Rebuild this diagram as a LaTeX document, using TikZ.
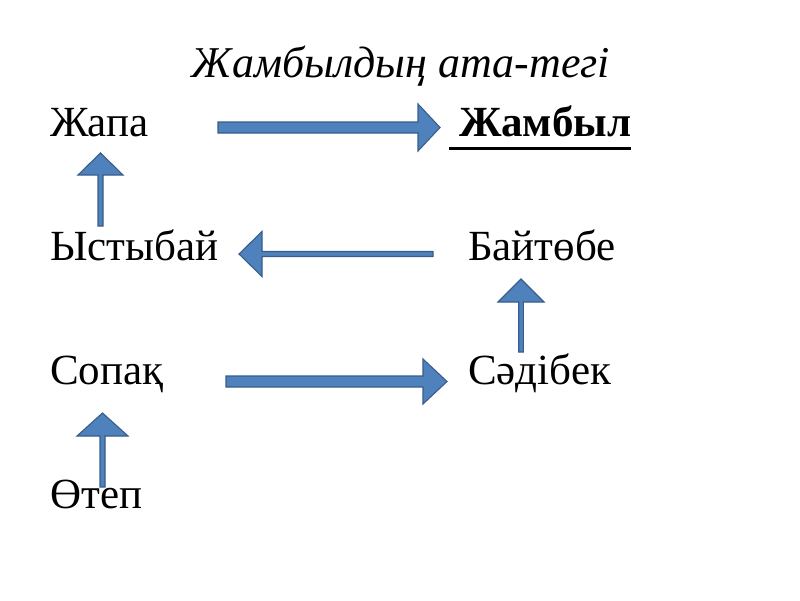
\documentclass[tikz,border=0pt]{standalone}
\usepackage{fontspec}
\setmainfont{Liberation Serif}
\usetikzlibrary{calc}
\definecolor{arrfill}{HTML}{4F81BD}
\definecolor{arrline}{HTML}{385D8A}
% #1 start, #2 end, #3 half shaft width, #4 half head width, #5 head length
\newcommand\myblockarrow[5]{%
  \coordinate (tmpb) at ($(#2)!#5!(#1)$);
  \draw[blockarr] ($(#1)!#3!90:(#2)$) -- ($(tmpb)!#3!90:(#2)$) -- ($(tmpb)!#4!90:(#2)$) -- (#2)
    -- ($(tmpb)!#4!-90:(#2)$) -- ($(tmpb)!#3!-90:(#2)$) -- ($(#1)!#3!-90:(#2)$) -- cycle;
}
\newcommand\myuline[1]{{\setbox0\hbox{#1}\rlap{\rule[-14pt]{\wd0}{3pt}}\box0}}
\begin{document}
\begin{tikzpicture}[x=1pt,y=-1pt,
  word/.style={anchor=base west,inner sep=0pt,font=\fontsize{43}{50}\selectfont},
  blockarr/.style={fill=arrfill,draw=arrline,line width=1.1pt,line join=miter}]
\useasboundingbox[fill=white] (0,0) rectangle (800,600);
% title
\node[anchor=base,inner sep=0pt,font=\fontsize{44}{52}\selectfont\itshape] (title) at (401,77) {Жамбылдың ата-тегі};
% left column
\node[word] (zhapa) at (50,136) {Жапа};
\node[word] (ystybai) at (50,260) {Ыстыбай};
\node[word] (sopaq) at (50,384) {Сопақ};
\node[word] (otep) at (50,508) {Өтеп};
% right column
\node[word] (zhambyl) at (449,136) {\myuline{\bfseries\ Жамбыл}};
\node[word] (baitobe) at (468,260) {Байтөбе};
\node[word] (sadibek) at (468,384) {Сәдібек};
% arrow end points
\coordinate (a1s) at (218,127.5); \coordinate (a1e) at (440,127.5);
\coordinate (a2s) at (100.5,226); \coordinate (a2e) at (100.5,153);
\coordinate (a3s) at (433,254);   \coordinate (a3e) at (239,254);
\coordinate (a4s) at (521,352);   \coordinate (a4e) at (521,279);
\coordinate (a5s) at (226,381.5); \coordinate (a5e) at (447,381.5);
\coordinate (a6s) at (102.5,487); \coordinate (a6e) at (102.5,413);
% arrows
\myblockarrow{a1s}{a1e}{5.5pt}{23.5pt}{22pt}
\myblockarrow{a2s}{a2e}{2.5pt}{22.5pt}{22pt}
\myblockarrow{a3s}{a3e}{2.5pt}{22.5pt}{23pt}
\myblockarrow{a4s}{a4e}{2.3pt}{23pt}{23pt}
\myblockarrow{a5s}{a5e}{5.5pt}{22.5pt}{24pt}
\myblockarrow{a6s}{a6e}{2.5pt}{25.5pt}{23pt}
\end{tikzpicture}
\end{document}
